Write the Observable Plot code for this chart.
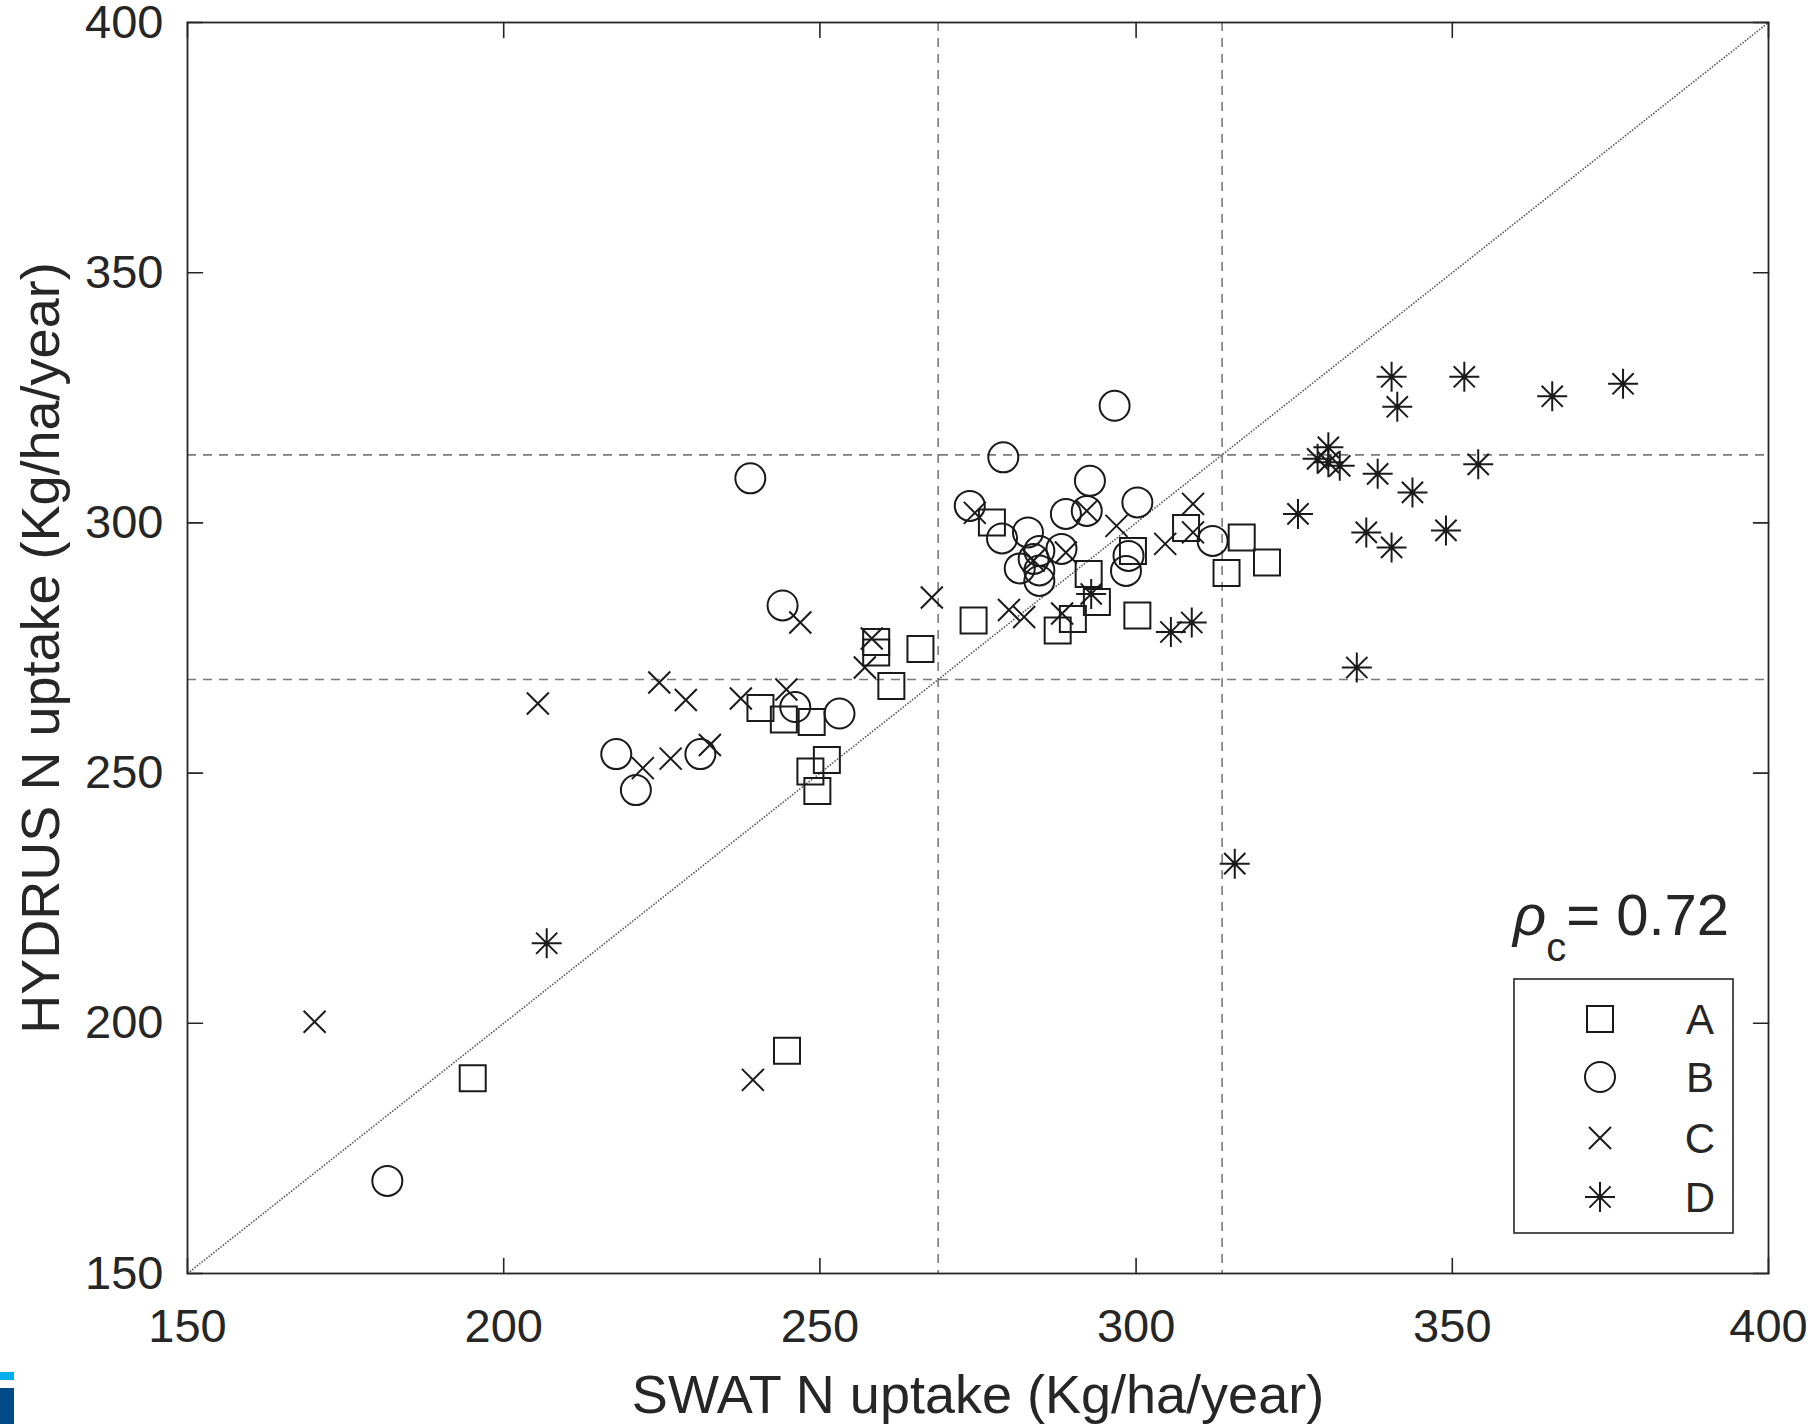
<!DOCTYPE html>
<html>
<head>
<meta charset="utf-8">
<script src="https://cdn.jsdelivr.net/npm/d3@7"></script>
<script src="https://cdn.jsdelivr.net/npm/@observablehq/plot@0.6"></script>
<style>
  body { margin: 0; background: #fff; }
  #chart { position: relative; width: 1813px; height: 1428px; }
  .wm1 { position: absolute; left: 0; top: 1372px; width: 14px; height: 8px; background: #00aeef; }
  .wm2 { position: absolute; left: 0; top: 1388px; width: 14px; height: 36px; background: #004b87; }
</style>
</head>
<body>
<div id="chart"><div class="wm1"></div><div class="wm2"></div></div>
<script>
// ---- Data ----
const xTicks = [150, 200, 250, 300, 350, 400];
const yTicks = [150, 200, 250, 300, 350, 400];
const thresholds = [268.7, 313.6];
const groups = ["A", "B", "C", "D"];
const xLabel = "SWAT N uptake (Kg/ha/year)";
const yLabel = "HYDRUS N uptake (Kg/ha/year)";
const rhoValue = "0.72";

const A_x = [195.1, 244.8, 240.6, 244.3, 248.7, 248.5, 251.1, 249.6, 258.9, 258.9, 261.3, 265.9, 274.3, 277.2, 287.6, 290.0, 292.5, 293.8, 299.5, 300.2, 307.9, 314.3, 316.7, 320.7];
const A_y = [189.0, 194.5, 263.0, 260.7, 260.2, 250.3, 252.6, 246.4, 276.2, 274.1, 267.4, 274.8, 280.5, 300.1, 278.5, 280.8, 289.8, 284.2, 294.4, 281.5, 299.0, 290.0, 297.1, 292.1];

const B_x = [181.6, 217.8, 220.9, 231.1, 239.0, 244.1, 246.1, 253.1, 273.7, 279.0, 278.8, 282.9, 284.7, 288.2, 281.6, 284.7, 284.7, 283.8, 288.9, 292.2, 292.7, 296.6, 298.8, 298.4, 300.2, 312.1];
const B_y = [168.5, 253.8, 246.6, 253.8, 308.9, 283.5, 263.2, 261.9, 303.4, 313.1, 296.9, 298.1, 294.4, 294.8, 290.9, 290.5, 288.4, 292.8, 301.8, 302.4, 308.4, 323.4, 293.4, 290.4, 304.1, 296.4];

const C_x = [170.1, 205.4, 222.0, 224.6, 226.4, 228.8, 232.6, 237.5, 239.4, 244.7, 246.9, 257.1, 258.2, 267.7, 274.5, 279.9, 282.3, 283.8, 288.9, 288.3, 292.2, 296.9, 304.6, 309.0, 309.0];
const C_y = [200.3, 263.9, 251.0, 268.1, 252.9, 264.6, 255.6, 264.9, 188.7, 266.7, 280.1, 271.1, 276.9, 285.1, 302.0, 282.6, 281.2, 292.5, 294.1, 281.9, 302.4, 299.4, 295.8, 303.8, 298.1];

const D_x = [206.8, 292.9, 305.5, 308.8, 315.6, 325.6, 328.7, 330.4, 330.4, 332.2, 334.9, 336.4, 338.2, 340.4, 340.4, 341.3, 343.7, 349.0, 351.9, 354.1, 365.8, 377.0];
const D_y = [216.0, 285.8, 278.2, 280.1, 231.9, 301.8, 312.8, 315.1, 312.1, 311.4, 271.1, 298.1, 309.8, 329.2, 295.1, 323.2, 306.1, 298.5, 329.2, 311.7, 325.3, 327.8];

// ---- Build tables ----
const toRows = (xs, ys, g) => xs.map((x, i) => ({x, y: ys[i], group: g}));
const seriesA = toRows(A_x, A_y, "A");
const seriesB = toRows(B_x, B_y, "B");
const seriesC = toRows(C_x, C_y, "C");
const seriesD = toRows(D_x, D_y, "D");
const domain = [xTicks[0], xTicks[xTicks.length - 1]];

// ---- Styles ----
const ink = "#262626";
const markInk = "#1a1a1a";
const font = "'Liberation Sans', Arial, Helvetica, sans-serif";

const symSquare = {draw(c) { c.rect(-13, -13, 26, 26); }};
const symCircle = {draw(c) { c.moveTo(15, 0); c.arc(0, 0, 15, 0, 2 * Math.PI); }};
const symTimes = {draw(c) { const h = 11; c.moveTo(-h, -h); c.lineTo(h, h); c.moveTo(-h, h); c.lineTo(h, -h); }};
const symAst = {draw(c) {
  const r = 15, d = r * Math.SQRT1_2;
  c.moveTo(-r, 0); c.lineTo(r, 0); c.moveTo(0, -r); c.lineTo(0, r);
  c.moveTo(-d, -d); c.lineTo(d, d); c.moveTo(-d, d); c.lineTo(d, -d);
}};
const symbolOf = {A: symSquare, B: symCircle, C: symTimes, D: symAst};
const tickShape = {draw(c, l) { c.moveTo(0, 0); c.lineTo(0, -l); }};

const dotStyle = {x: "x", y: "y", fill: "none", stroke: markInk, strokeWidth: 2};

const plot = Plot.plot({
  width: 1813,
  height: 1428,
  marginLeft: 187,
  marginRight: 45,
  marginTop: 22,
  marginBottom: 155,
  style: {fontFamily: font, color: ink, background: "white", overflow: "visible"},
  x: {domain},
  y: {domain},
  marks: [
    Plot.ruleX(thresholds, {stroke: "#7a7a7a", strokeWidth: 1.6, strokeDasharray: "9,7"}),
    Plot.ruleY(thresholds, {stroke: "#7a7a7a", strokeWidth: 1.6, strokeDasharray: "9,7"}),
    Plot.link([domain], {x1: d => d[0], y1: d => d[0], x2: d => d[1], y2: d => d[1], stroke: "#555", strokeWidth: 1.6, strokeDasharray: "1.5,1.5"}),
    Plot.dot(seriesA, {...dotStyle, symbol: symbolOf.A}),
    Plot.dot(seriesB, {...dotStyle, symbol: symbolOf.B}),
    Plot.dot(seriesC, {...dotStyle, symbol: symbolOf.C}),
    Plot.dot(seriesD, {...dotStyle, symbol: symbolOf.D}),
    Plot.dot(seriesD, {x: "x", y: "y", r: 2.5, fill: markInk, stroke: "none"}),
    Plot.frame({stroke: ink, strokeWidth: 1.8}),
    Plot.vector(xTicks, {x: d => d, frameAnchor: "bottom", length: 15, anchor: "start", rotate: 0, shape: tickShape, stroke: ink, strokeWidth: 1.6}),
    Plot.vector(xTicks, {x: d => d, frameAnchor: "top", length: 15, anchor: "start", rotate: 180, shape: tickShape, stroke: ink, strokeWidth: 1.6}),
    Plot.vector(yTicks, {y: d => d, frameAnchor: "left", length: 15, anchor: "start", rotate: 90, shape: tickShape, stroke: ink, strokeWidth: 1.6}),
    Plot.vector(yTicks, {y: d => d, frameAnchor: "right", length: 15, anchor: "start", rotate: -90, shape: tickShape, stroke: ink, strokeWidth: 1.6}),
    Plot.axisX(xTicks, {tickSize: 0, tickPadding: 35, fontSize: 47, label: null, fill: ink}),
    Plot.axisY(yTicks, {tickSize: 0, tickPadding: 24, fontSize: 47, label: null, fill: ink}),
    Plot.text([xLabel], {text: d => d, frameAnchor: "bottom", textAnchor: "middle", dy: 139, fontSize: 54, fill: ink}),
    Plot.text([yLabel], {text: d => d, frameAnchor: "left", textAnchor: "middle", dx: -146, rotate: -90, fontSize: 54, fill: ink})
  ]
});

const svg = d3.select(plot);

// ---- Annotation: rho_c ----
const rho = svg.append("text")
  .attr("x", 1513).attr("y", 935).attr("text-anchor", "start")
  .attr("font-family", font).attr("font-size", 58).attr("fill", ink);
rho.append("tspan").attr("font-style", "italic").text("ρ");
rho.append("tspan").attr("font-size", 40).attr("dy", 26).text("c");
rho.append("tspan").attr("dy", -26).text("= " + rhoValue);

// ---- Legend ----
const lg = svg.append("g");
lg.append("rect").attr("x", 1514).attr("y", 979).attr("width", 219).attr("height", 254)
  .attr("fill", "white").attr("stroke", ink).attr("stroke-width", 1.6);
const rowY = [1019, 1077, 1138, 1197];
groups.forEach((g, i) => {
  const p = d3.path();
  symbolOf[g].draw(p, 0);
  lg.append("path").attr("d", p.toString())
    .attr("transform", `translate(1600,${rowY[i]})`)
    .attr("fill", "none").attr("stroke", markInk).attr("stroke-width", 2);
  if (g === "D") {
    lg.append("circle").attr("cx", 1600).attr("cy", rowY[i]).attr("r", 2.5).attr("fill", markInk);
  }
  lg.append("text").attr("x", 1700).attr("y", rowY[i]).attr("dy", "0.36em")
    .attr("text-anchor", "middle").attr("font-family", font).attr("font-size", 42)
    .attr("fill", ink).text(g);
});

document.getElementById("chart").prepend(plot);
</script>
</body>
</html>
